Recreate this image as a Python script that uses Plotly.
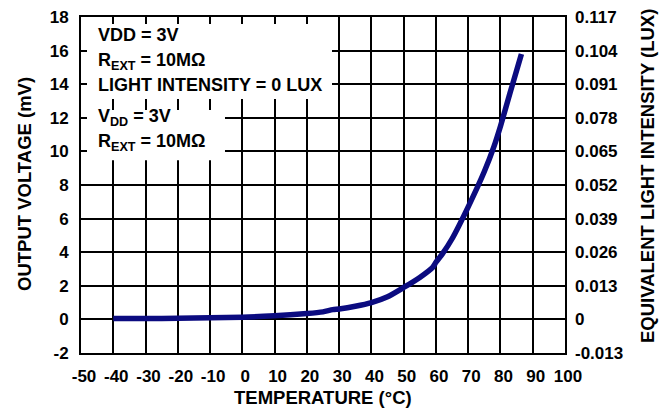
import plotly.graph_objects as go

# Data
temperature_c = [-40, -30, -20, -10, 0, 10, 20, 25, 28, 30, 35, 40, 45, 50, 55, 59, 60, 62, 65, 70, 75, 78, 80, 83, 86.5]
output_mv = [0.05, 0.05, 0.07, 0.1, 0.13, 0.22, 0.35, 0.45, 0.58, 0.62, 0.78, 1.0, 1.35, 1.9, 2.5, 3.1, 3.4, 3.9, 4.8, 6.7, 8.8, 10.3, 11.5, 13.5, 15.8]

x_ticks = [-50, -40, -30, -20, -10, 0, 10, 20, 30, 40, 50, 60, 70, 80, 90, 100]
x_ticktext = ["-50", "-40", "-30", "-20", "-10", "0", "10", "20", "30", "40", "50", "60", "70", "80", "90", "100"]
y_ticks = [-2, 0, 2, 4, 6, 8, 10, 12, 14, 16, 18]
y_ticktext = ["-2", "0", "2", "4", "6", "8", "10", "12", "14", "16", "18"]
lux_tickvals = [-0.013, 0, 0.013, 0.026, 0.039, 0.052, 0.065, 0.078, 0.091, 0.104, 0.117]
lux_ticktext = ["-0.013", "0", "0.013", "0.026", "0.039", "0.052", "0.065", "0.078", "0.091", "0.104", "0.117"]

FONT = "Liberation Sans, Arial, sans-serif"
tick_font = dict(family=FONT, size=17, color="black", weight="bold")

fig = go.Figure()
fig.add_trace(go.Scatter(
    x=temperature_c, y=output_mv, mode="lines",
    line=dict(color="#0b0b80", width=5.5, shape="spline", smoothing=0.6),
    showlegend=False, hoverinfo="skip"))
# invisible trace to activate the right axis
fig.add_trace(go.Scatter(x=[-50], y=[0], yaxis="y2", mode="markers",
                         marker=dict(opacity=0), showlegend=False, hoverinfo="skip"))

fig.update_layout(
    width=660, height=412,
    margin=dict(l=81, r=95, t=17, b=59, autoexpand=False),
    paper_bgcolor="white", plot_bgcolor="white",
    xaxis=dict(range=[-50, 100], tickvals=x_ticks, ticktext=x_ticktext, ticks="", showgrid=True,
               gridcolor="black", gridwidth=2, zeroline=False,
               showline=True, linecolor="black", linewidth=2, mirror=True,
               tickfont=tick_font, ticklabelstandoff=7, ticklabelshift=3),
    yaxis=dict(range=[-2, 18], tickvals=y_ticks, ticktext=y_ticktext, ticks="", showgrid=True,
               gridcolor="black", gridwidth=2, zeroline=False,
               showline=True, linecolor="black", linewidth=2, mirror=True,
               tickfont=tick_font, ticklabelstandoff=7),
    yaxis2=dict(range=[-0.013, 0.117], overlaying="y", side="right",
                tickvals=lux_tickvals, ticktext=lux_ticktext, ticks="",
                showgrid=False, zeroline=False, tickfont=tick_font,
                ticklabelstandoff=9),
)

# white boxes behind the condition labels
fig.add_shape(type="rect", xref="paper", yref="paper", x0=0.0124, x1=0.5186,
              y0=0.756, y1=0.979, fillcolor="white", line=dict(width=0), layer="above")
fig.add_shape(type="rect", xref="paper", yref="paper", x0=0.0124, x1=0.2975,
              y0=0.574, y1=0.723, fillcolor="white", line=dict(width=0), layer="above")

ann_font = dict(family=FONT, size=18, color="black", weight="bold")
labels = [
    ("VDD = 3V", 35.3),
    ("R<sub>EXT</sub> = 10MΩ", 62),
    ("LIGHT INTENSITY = 0 LUX", 85.3),
    ("V<sub>DD</sub> = 3V", 117),
    ("R<sub>EXT</sub> = 10MΩ", 142),
]
for txt, py in labels:
    fig.add_annotation(text=txt, xref="paper", yref="paper",
                       x=(96 - 81) / 484, y=(353 - py) / 336,
                       xanchor="left", yanchor="middle", showarrow=False,
                       font=ann_font)

title_font = dict(family=FONT, size=18.5, color="black", weight="bold")
fig.add_annotation(text="TEMPERATURE (°C)", xref="paper", yref="paper",
                   x=0.5, y=(353 - 397) / 336, xanchor="center", yanchor="middle",
                   showarrow=False, font=title_font)
fig.add_annotation(text="OUTPUT VOLTAGE (mV)", xref="paper", yref="paper",
                   x=(24 - 81) / 484, y=(353 - 184) / 336, xanchor="center", yanchor="middle",
                   textangle=-90, showarrow=False, font=title_font)
fig.add_annotation(text="EQUIVALENT LIGHT INTENSITY (LUX)", xref="paper", yref="paper",
                   x=(647 - 81) / 484, y=(353 - 176) / 336, xanchor="center", yanchor="middle",
                   textangle=-90, showarrow=False, font=title_font)

fig.write_html("out.html", config={"displayModeBar": False},
               post_script="document.body.style.margin='0';document.body.style.padding='0';")
